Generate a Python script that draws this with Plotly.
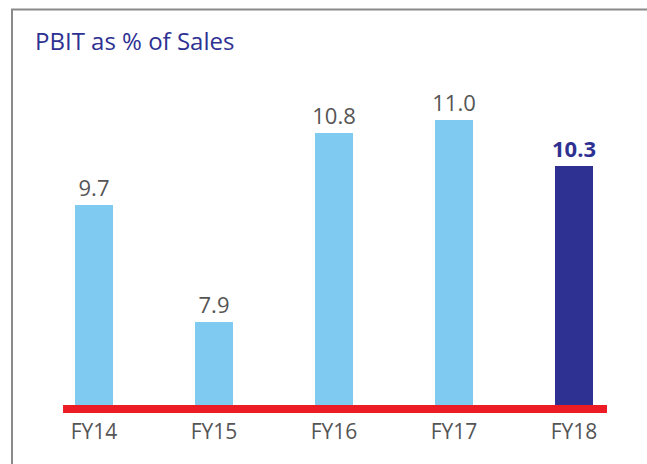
import plotly.graph_objects as go

categories = ["FY14", "FY15", "FY16", "FY17", "FY18"]
values = [9.7, 7.9, 10.8, 11.0, 10.3]
bar_colors = ["#7FCAF0", "#7FCAF0", "#7FCAF0", "#7FCAF0", "#2E3192"]
label_colors = ["#555555", "#555555", "#555555", "#555555", "#2E3192"]
labels = [f"{v:.1f}" for v in values[:-1]] + [f"<b>{values[-1]:.1f}</b>"]

W, H = 647, 464
ml, mr, mt, mb = 34, 13, 100, 55
ymin = 6.56
px_per_unit = 65.0
ymax = ymin + (H - mt - mb) / px_per_unit

fig = go.Figure()
fig.add_trace(go.Bar(
    x=categories, y=values, width=0.317,
    marker=dict(color=bar_colors, line=dict(width=0)),
    text=labels, textposition="outside", constraintext="none",
    textfont=dict(family="Open Sans", size=22, color=label_colors),
    cliponaxis=False, hoverinfo="skip",
))

pw = W - ml - mr
ph = H - mt - mb
def px2paper_x(px):
    return (px - ml) / pw
def px2paper_y(py):
    return (H - mb - py) / ph

shapes = [
    dict(type="line", xref="x", yref="paper", x0=-0.258, x1=4.275, y0=0, y1=0,
         line=dict(color="#ED1C24", width=8)),
    dict(type="line", xref="paper", yref="paper",
         x0=px2paper_x(12), x1=px2paper_x(12), y0=px2paper_y(9.5), y1=px2paper_y(470),
         line=dict(color="#8A8A8A", width=2)),
    dict(type="line", xref="paper", yref="paper",
         x0=px2paper_x(11), x1=px2paper_x(650), y0=px2paper_y(9.5), y1=px2paper_y(9.5),
         line=dict(color="#8A8A8A", width=2)),
]

fig.update_layout(
    width=W, height=H,
    margin=dict(l=ml, r=mr, t=mt, b=mb),
    paper_bgcolor="white", plot_bgcolor="white",
    showlegend=False,
    title=dict(text="PBIT as % of Sales", x=35 / W, xanchor="left",
               y=1 - 42 / H, yanchor="middle", yref="container",
               font=dict(family="Open Sans", size=24, color="#2E3192")),
    xaxis=dict(range=[-0.5, 4.5], showgrid=False, zeroline=False, showline=False,
               ticks="", tickfont=dict(family="Open Sans", size=21, color="#555555"),
               ticklabelstandoff=8),
    yaxis=dict(range=[ymin, ymax], visible=False),
    shapes=shapes,
    bargap=0,
)

fig.write_html("out.html")
